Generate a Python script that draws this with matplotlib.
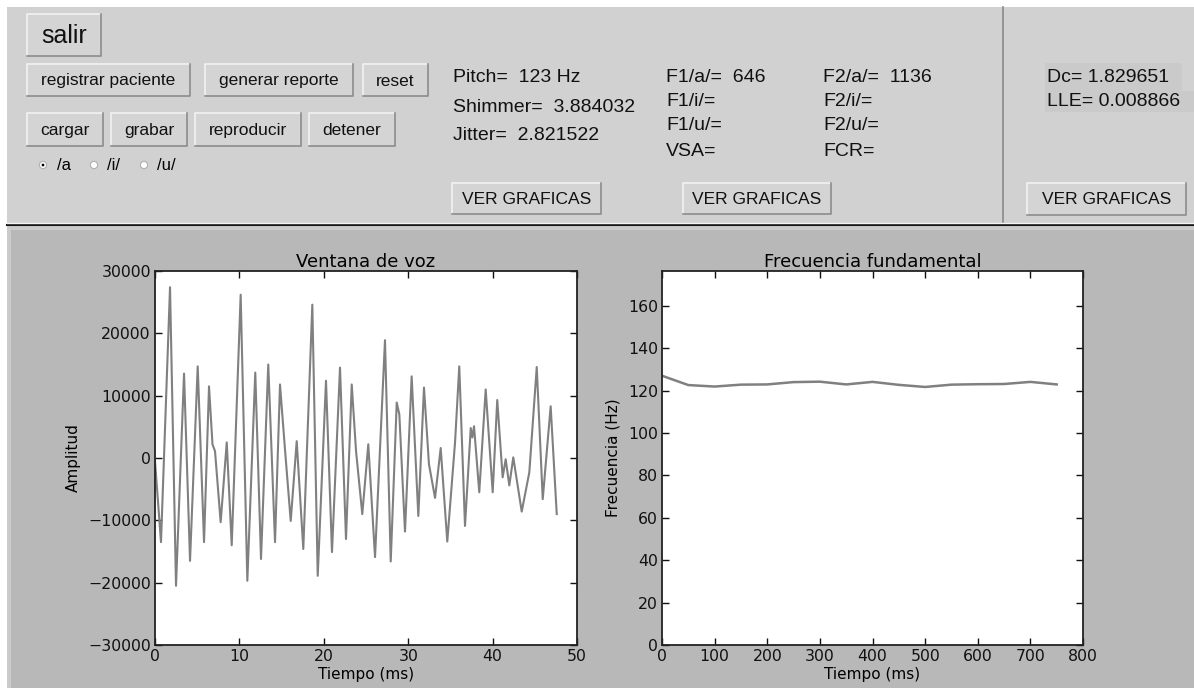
import matplotlib
matplotlib.use("Agg")
import matplotlib.pyplot as plt
from matplotlib.patches import Rectangle, Circle

t_voz = [0.0, 0.71, 1.78, 2.49, 3.44, 4.15, 5.06, 5.81, 6.40, 6.81, 7.11, 7.78,
         8.50, 9.09, 10.15, 10.94, 11.88, 12.56, 13.42, 14.22, 14.81, 15.40,
         16.08, 16.79, 17.57, 18.64, 19.28, 20.26, 20.97, 21.92, 22.63, 23.31,
         23.82, 24.56, 25.27, 26.07, 27.25, 27.93, 28.64, 28.95, 29.62, 30.41,
         31.20, 31.87, 32.46, 33.18, 33.85, 34.63, 35.55, 36.05, 36.73, 37.41,
         37.60, 37.80, 38.42, 39.18, 40.01, 40.55, 41.19, 41.55, 41.98, 42.45,
         43.45, 44.35, 45.23, 45.94, 46.88, 47.60]
amp_voz = [-500, -13500, 27400, -20500, 13550, -16500, 14700, -13500, 11500,
           2200, 1100, -10300, 2500, -14000, 26200, -19700, 13700, -16200,
           15000, -13500, 11800, 1400, -10100, 2700, -14600, 24600, -18900,
           12400, -15100, 14500, -13000, 11800, 1100, -9000, 2200, -15900,
           18900, -16600, 8900, 7000, -11800, 13100, -9300, 11300, -1000,
           -6400, 1600, -13400, 2500, 14700, -10900, 4800, 3300, 5100, -5500,
           11000, -5500, 9300, -3100, -200, -4400, 100, -8600, -2300, 14600,
           -6600, 8300, -9000]

# frecuencia fundamental (ms, Hz)
t_f0 = [0, 50, 100, 150, 200, 250, 300, 350, 400, 450, 500, 550, 600, 650, 700, 750]
f0 = [127.0, 122.6, 121.9, 122.8, 122.9, 124.0, 124.2, 122.9, 124.1, 122.7,
      121.7, 122.8, 123.0, 123.1, 124.1, 122.9]

amp_ticks = [-30000, -20000, -10000, 0, 10000, 20000, 30000]
f0_ticks = [0, 20, 40, 60, 80, 100, 120, 140, 160]

botones_1 = ["registrar paciente", "generar reporte", "reset"]
botones_2 = ["cargar", "grabar", "reproducir", "detener"]
vocales = ["/a", "/i/", "/u/"]
medidas = ["Pitch=  123 Hz", "Shimmer=  3.884032", "Jitter=  2.821522"]
formantes_1 = ["F1/a/=  646", "F1/i/=", "F1/u/=", "VSA="]
formantes_2 = ["F2/a/=  1136", "F2/i/=", "F2/u/=", "FCR="]
no_lineales = ["Dc= 1.829651", "LLE= 0.008866"]

W, H = 1194, 688
fig = plt.figure(figsize=(W / 100, H / 100), dpi=100)
fig.patch.set_facecolor("white")

# capa de interfaz en pixeles
gui = fig.add_axes([0, 0, 1, 1], zorder=0)
gui.set_xlim(0, W)
gui.set_ylim(H, 0)
gui.axis("off")

GF = "Liberation Sans"


def rect(x0, y0, x1, y1, color, **kw):
    gui.add_patch(Rectangle((x0, y0), x1 - x0, y1 - y0, facecolor=color,
                            edgecolor="none", **kw))


def boton(x0, y0, x1, y1, texto, fs=12.5):
    rect(x0, y0, x1, y1, "#d4d4d4")
    gui.plot([x0, x0, x1], [y1, y0, y0], color="#f2f2f2", lw=1.2)
    gui.plot([x0, x1, x1], [y1, y1, y0], color="#8c8c8c", lw=1.2)
    gui.text((x0 + x1) / 2, (y0 + y1) / 2 + 1, texto, ha="center", va="center",
             fontsize=fs, family=GF, color="#111111")


# fondos
rect(7, 7, W, 223, "#d1d1d1")
gui.plot([7, W], [225, 225], color="#151515", lw=1.5)
rect(7, 226, W, H, "#cbcbcb")
rect(11, 230, W, H, "#b7b8b7")
gui.plot([1003, 1003], [7, 222], color="#8a8a8a", lw=1.2)
gui.plot([7, W], [222.5, 222.5], color="#f4f4f4", lw=1)

boton(27, 14, 101, 56, "salir", fs=18)
for (x0, x1), txt in zip([(27, 190), (205, 353), (363, 428)], botones_1):
    boton(x0, 64, x1, 96, txt)
for (x0, x1), txt in zip([(27, 103), (111, 187), (195, 301), (309, 395)], botones_2):
    boton(x0, 113, x1, 146, txt)

for i, (cx, tx, txt) in enumerate(zip([43, 94, 144], [57, 107, 157], vocales)):
    gui.add_patch(Circle((cx, 165), 3.6, facecolor="white", edgecolor="#b0b0b0", lw=0.8))
    if i == 0:
        gui.add_patch(Circle((cx, 165), 1.4, facecolor="black", edgecolor="none"))
    gui.text(tx, 165, txt, ha="left", va="center", fontsize=12, family=GF)

for y, txt in zip([77, 107, 136], medidas):
    gui.text(453, y, txt, ha="left", va="center", fontsize=14, family=GF, color="#111111")
for y, a, b in zip([77, 101, 126, 151], formantes_1, formantes_2):
    gui.text(666, y, a, ha="left", va="center", fontsize=14, family=GF, color="#111111")
    gui.text(823, y, b, ha="left", va="center", fontsize=14, family=GF, color="#111111")

rect(1045, 63, 1182, 91, "#cacaca")
rect(1045, 91, W, 112, "#cacaca")
for y, txt in zip([77, 102], no_lineales):
    gui.text(1047, y, txt, ha="left", va="center", fontsize=14, family=GF, color="#111111")

boton(452, 183, 601, 214, "VER GRAFICAS", fs=12.5)
boton(683, 183, 831, 214, "VER GRAFICAS", fs=12.5)
boton(1027, 183, 1186, 215, "VER GRAFICAS", fs=12.5)

# graficas
plt.rcParams["axes.unicode_minus"] = True
ax1 = fig.add_axes([155 / W, 1 - 645 / H, 422 / W, 374 / H], zorder=2)
ax2 = fig.add_axes([662 / W, 1 - 645 / H, 421 / W, 374 / H], zorder=2)

ax1.plot(t_voz, amp_voz, color="#808080", lw=1.5, solid_joinstyle="round")
ax1.set_xlim(0, 50)
ax1.set_ylim(-30000, 30000)
ax1.set_yticks(amp_ticks)
ax1.set_title("Ventana de voz", fontsize=13, pad=3)
ax1.set_xlabel("Tiempo (ms)", fontsize=11, labelpad=2)
ax1.set_ylabel("Amplitud", fontsize=11, labelpad=5)

ax2.plot(t_f0, f0, color="#808080", lw=1.8)
ax2.set_xlim(0, 800)
ax2.set_ylim(0, 176.4)
ax2.set_yticks(f0_ticks)
ax2.set_title("Frecuencia fundamental", fontsize=13, pad=3)
ax2.set_xlabel("Tiempo (ms)", fontsize=11, labelpad=2)
ax2.set_ylabel("Frecuencia (Hz)", fontsize=11, labelpad=5)

for ax in (ax1, ax2):
    ax.set_facecolor("white")
    ax.tick_params(direction="in", top=True, right=True, length=5, width=1,
                   labelsize=11.3, pad=3, colors="#111111")
    for s in ax.spines.values():
        s.set_linewidth(1.3)
        s.set_color("#222222")

fig.savefig("out.png", dpi=100, facecolor=fig.get_facecolor())
